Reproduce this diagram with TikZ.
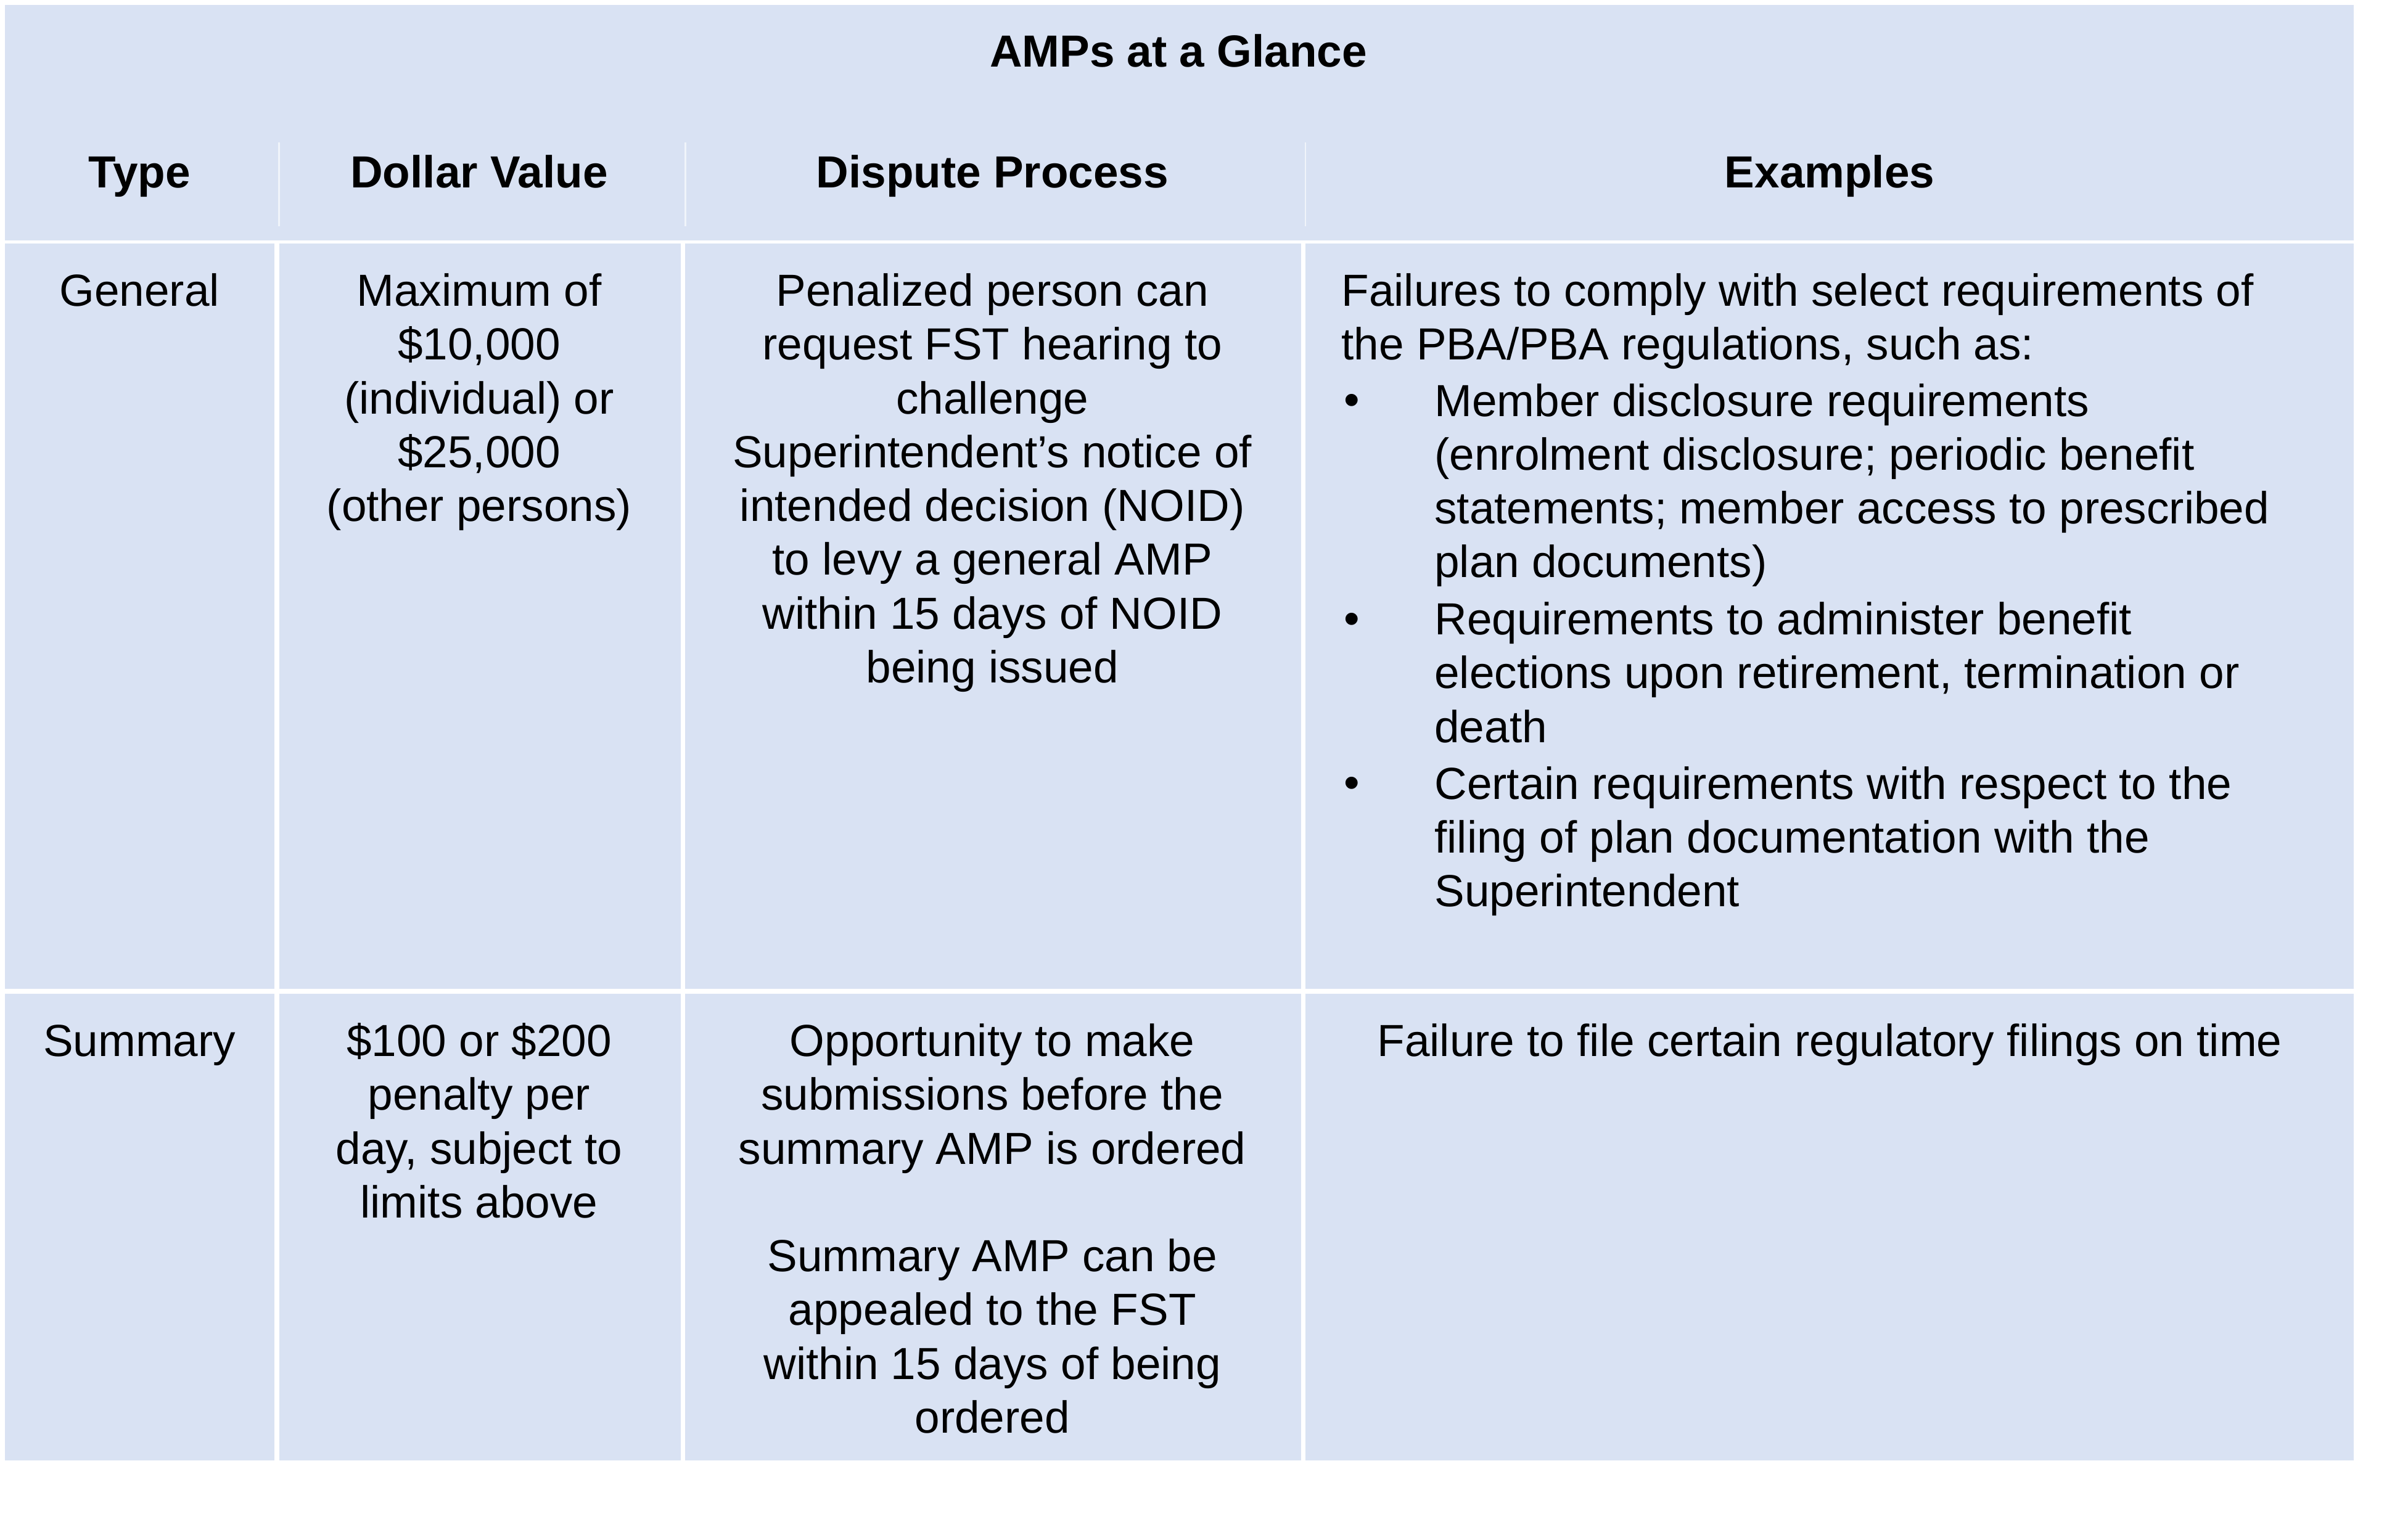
\documentclass[tikz,border=0pt]{standalone}
\usepackage{fontspec}
\setmainfont{Liberation Sans}
\definecolor{cellbg}{HTML}{D9E2F3}
\newcommand{\fsz}{\fontsize{29}{34.7}\selectfont}
\begin{document}
\begin{tikzpicture}[x=1pt,y=-1pt,
  cellbox/.style={fill=cellbg,draw=none},
  txt/.style={anchor=north,inner sep=0pt,align=center,font=\fsz},
  txtl/.style={anchor=north west,inner sep=0pt,align=left,font=\fsz},
  hdr/.style={anchor=base,inner sep=0pt,font=\fsz\bfseries}]
\useasboundingbox (0,0) rectangle (1553,985);
\fill[white] (0,0) rectangle (1553,985);
% header
\path[cellbox] (3,3) rectangle (1518,155);
\foreach \x in {180,442,842} \draw[white!60!cellbg,line width=1pt] (\x,92) -- (\x,146);
% rows
\foreach \a/\b in {3/177,180/439,442/839,842/1518}{
  \path[cellbox] (\a,157) rectangle (\b,638);
  \path[cellbox] (\a,641) rectangle (\b,942);
}
\node[hdr] (title) at (760,43) {AMPs at a Glance};
\node[hdr] (h1) at (90,121) {Type};
\node[hdr] (h2) at (309,121) {Dollar Value};
\node[hdr] (h3) at (640,121) {Dispute Process};
\node[hdr] (h4) at (1180,121) {Examples};
% row 1
\node[txt] (g1) at (90,173) {\strut General};
\node[txt] (g2) at (309,173) {\strut Maximum of\\\$10,000\\(individual) or\\\$25,000\\(other persons)};
\node[txt] (g3) at (640,173) {\strut Penalized person can\\request FST hearing to\\challenge\\Superintendent’s notice of\\intended decision (NOID)\\to levy a general AMP\\within 15 days of NOID\\being issued};
\node[txtl] (g4) at (865,173) {\strut Failures to comply with select requirements of\\the PBA/PBA regulations, such as:};
\node[txtl] (b1) at (925,244) {\strut Member disclosure requirements\\(enrolment disclosure; periodic benefit\\statements; member access to prescribed\\plan documents)};
\node[txtl] (b2) at (925,385) {\strut Requirements to administer benefit\\elections upon retirement, termination or\\death};
\node[txtl] (b3) at (925,491) {\strut Certain requirements with respect to the\\filing of plan documentation with the\\Superintendent};
\foreach \n/\y in {d1/268,d2/409,d3/515} \node[anchor=base,inner sep=0pt,font=\fsz] (\n) at (872,\y) {•};
% row 2
\node[txt] (s1) at (90,657) {\strut Summary};
\node[txt] (s2) at (309,657) {\strut \$100 or \$200\\penalty per\\day, subject to\\limits above};
\node[txt] (s3) at (640,657) {\strut Opportunity to make\\submissions before the\\summary AMP is ordered\\[34.7pt]Summary AMP can be\\appealed to the FST\\within 15 days of being\\ordered};
\node[txt] (s4) at (1180,657) {\strut Failure to file certain regulatory filings on time};
\end{tikzpicture}
\end{document}
